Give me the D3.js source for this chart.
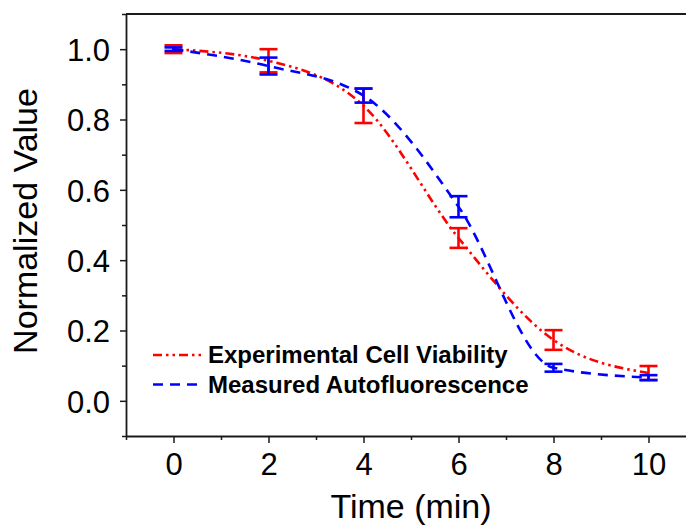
<!DOCTYPE html>
<html>
<head>
<meta charset="utf-8">
<script src="https://cdn.jsdelivr.net/npm/d3@7"></script>
<style>
  html, body { margin: 0; padding: 0; background: #fff; }
  svg { display: block; font-family: Arial, "Liberation Sans", sans-serif; }
</style>
</head>
<body>
<svg id="chart" width="686" height="525"></svg>
<script>
// ---- data ----
const time = [0, 2, 4, 6, 8, 10];
const viability = [1.0, 0.967, 0.839, 0.463, 0.173, 0.079];
const viabilityErr = [0.011, 0.033, 0.049, 0.028, 0.028, 0.02];
const autofluor = [1.0, 0.952, 0.868, 0.552, 0.094, 0.066];
const autofluorErr = [0.005, 0.024, 0.02, 0.03, 0.011, 0.007];
const seriesNames = ["Experimental Cell Viability", "Measured Autofluorescence"];
const xTicks = [0, 2, 4, 6, 8, 10];
const xMinorTicks = [-1, 1, 3, 5, 7, 9, 11];
const yTicks = [0.0, 0.2, 0.4, 0.6, 0.8, 1.0];
const yMinorTicks = [-0.1, 0.1, 0.3, 0.5, 0.7, 0.9, 1.1];
const xTitle = "Time (min)";
const yTitle = "Normalized Value";

// ---- layout ----
const svg = d3.select("#chart");
const pLeft = 126, pRight = 696, pTop = 14, pBottom = 436;
const x = d3.scaleLinear().domain([-1, 11]).range([pLeft, pRight]);
const y = d3.scaleLinear().domain([-0.1, 1.1]).range([pBottom, pTop]);
const axisColor = "#1a1a1a";

// minor ticks
svg.append("g").attr("transform", `translate(${pLeft},0)`)
  .call(d3.axisLeft(y).tickValues(yMinorTicks).tickSize(4).tickFormat(""))
  .call(g => g.select(".domain").remove())
  .call(g => g.selectAll("line").attr("stroke", axisColor).attr("stroke-width", 1.5));
svg.append("g").attr("transform", `translate(0,${pBottom})`)
  .call(d3.axisBottom(x).tickValues(xMinorTicks).tickSize(4).tickFormat(""))
  .call(g => g.select(".domain").remove())
  .call(g => g.selectAll("line").attr("stroke", axisColor).attr("stroke-width", 1.5));

// major axes
const yAxis = svg.append("g").attr("transform", `translate(${pLeft},0)`)
  .call(d3.axisLeft(y).tickValues(yTicks).tickSize(6).tickSizeOuter(0).tickPadding(10).tickFormat(d3.format(".1f")));
yAxis.select(".domain").attr("stroke", axisColor).attr("stroke-width", 1.8);
yAxis.selectAll("line").attr("stroke", axisColor).attr("stroke-width", 1.5);
yAxis.selectAll("text").attr("font-size", 31).attr("fill", "#000")
  .attr("font-family", "Arial, 'Liberation Sans', sans-serif").attr("dy", "0.36em");

const xAxis = svg.append("g").attr("transform", `translate(0,${pBottom})`)
  .call(d3.axisBottom(x).tickValues(xTicks).tickSize(7).tickSizeOuter(0).tickPadding(10).tickFormat(d3.format("d")));
xAxis.select(".domain").attr("stroke", axisColor).attr("stroke-width", 1.8);
xAxis.selectAll("line").attr("stroke", axisColor).attr("stroke-width", 1.5);
xAxis.selectAll("text").attr("font-size", 31).attr("fill", "#000")
  .attr("font-family", "Arial, 'Liberation Sans', sans-serif").attr("dy", "0.72em");

// top border
svg.append("line").attr("x1", pLeft).attr("x2", pRight).attr("y1", pTop).attr("y2", pTop)
  .attr("stroke", axisColor).attr("stroke-width", 2);

// titles
svg.append("text").attr("x", 411).attr("y", 518).attr("text-anchor", "middle")
  .attr("font-size", 34).text(xTitle);
svg.append("text").attr("transform", "translate(37,221) rotate(-90)")
  .attr("text-anchor", "middle").attr("font-size", 34).text(yTitle);

// ---- series ----
const series = [
  { name: seriesNames[0], vals: viability, errs: viabilityErr, color: "#ff0000", dash: "9,4,2.5,4,2.5,4" },
  { name: seriesNames[1], vals: autofluor, errs: autofluorErr, color: "#0000ff", dash: "10,7" }
];

const line = d3.line().x(d => x(d.t)).y(d => y(d.v)).curve(d3.curveMonotoneX);

series.forEach(s => {
  const pts = time.map((t, i) => ({ t, v: s.vals[i], e: s.errs[i] }));
  svg.append("path").datum(pts).attr("d", line)
    .attr("fill", "none").attr("stroke", s.color).attr("stroke-width", 2.6)
    .attr("stroke-dasharray", s.dash);
  const eb = svg.append("g").attr("stroke", s.color).attr("stroke-width", 2.6);
  pts.forEach(p => {
    eb.append("line").attr("x1", x(p.t)).attr("x2", x(p.t)).attr("y1", y(p.v - p.e)).attr("y2", y(p.v + p.e));
    eb.append("line").attr("x1", x(p.t) - 9).attr("x2", x(p.t) + 9).attr("y1", y(p.v - p.e)).attr("y2", y(p.v - p.e));
    eb.append("line").attr("x1", x(p.t) - 9).attr("x2", x(p.t) + 9).attr("y1", y(p.v + p.e)).attr("y2", y(p.v + p.e));
  });
});

// ---- legend ----
const legY = [355, 384.5];
series.forEach((s, i) => {
  svg.append("line").attr("x1", 153).attr("x2", 203).attr("y1", legY[i]).attr("y2", legY[i])
    .attr("stroke", s.color).attr("stroke-width", 2.6).attr("stroke-dasharray", s.dash);
  svg.append("text").attr("x", 208).attr("y", legY[i] + 8).attr("font-size", 24)
    .attr("font-weight", "bold").text(s.name);
});
</script>
</body>
</html>
